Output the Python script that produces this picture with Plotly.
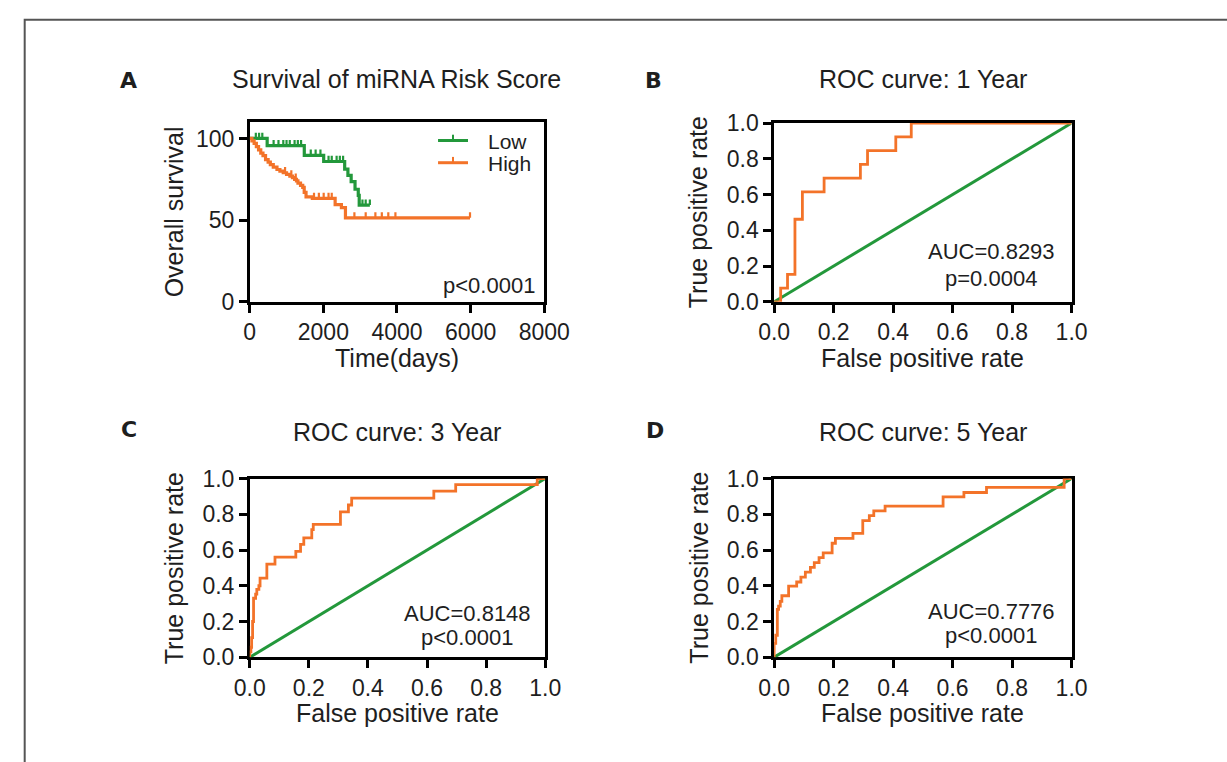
import plotly.graph_objects as go

W, H = 1227, 762

# ---------------- Panel A: Kaplan-Meier ----------------
low_t = [0, 474, 1482, 2009, 2579, 2667, 2755, 2860, 2948, 2974, 3263]
low_s = [100, 95.6, 89.7, 85.9, 81.2, 77.4, 73.6, 68.9, 65.1, 59.2, 59.2]
low_cens_t = [166, 254, 342, 649, 781, 912, 1000, 1088, 1219, 1307, 1395,
              1658, 1790, 1921, 2141, 2228, 2360, 2448, 2536, 3062, 3150, 3263]

high_t = [0, 60, 120, 180, 240, 300, 360, 430, 500, 560, 640, 740, 820, 910,
          1000, 1090, 1160, 1220, 1270, 1310, 1380, 1440, 1480, 1530, 1700,
          2320, 2490, 2600, 5983]
high_s = [100, 98.5, 97, 95, 93, 91, 89.5, 87, 85.5, 84, 82.5, 81, 80, 79,
          78, 77, 76, 75, 74, 72.7, 71.3, 70, 67, 64.2, 63.3,
          59.5, 57.6, 51.4, 51.4]
high_cens_t = [960, 1130, 1250, 1746, 1878, 2009, 2141, 2228, 2843, 3150,
               3413, 3588, 3764, 3957, 5983]

km_xticks = [0, 2000, 4000, 6000, 8000]
km_yticks = [0, 50, 100]

# ---------------- ROC curves (FPR at each jump, TPR after jump) ----------------
roc1_fpr = [0, 0.022, 0.045, 0.070, 0.095, 0.168, 0.290, 0.314, 0.409, 0.461, 1.0]
roc1_tpr = [0, 0.077, 0.154, 0.462, 0.615, 0.692, 0.769, 0.846, 0.923, 1.0, 1.0]

roc3_fpr = [0, 0, 0.004, 0.0065, 0.0097, 0.013, 0.020, 0.024, 0.031, 0.035,
            0.058, 0.0855, 0.156, 0.172, 0.183, 0.210, 0.215, 0.307, 0.334,
            0.345, 0.623, 0.697, 0.973, 1.0]
roc3_tpr = [0, 0.03, 0.056, 0.11, 0.20, 0.33, 0.353, 0.38, 0.40, 0.443,
            0.521, 0.56, 0.593, 0.632, 0.668, 0.714, 0.744, 0.813, 0.852,
            0.89, 0.93, 0.966, 1.0, 1.0]

roc5_fpr = [0, 0, 0.0054, 0.0108, 0.015, 0.0206, 0.026, 0.0487, 0.0758, 0.090,
            0.105, 0.122, 0.135, 0.151, 0.165, 0.195, 0.206, 0.265, 0.298,
            0.320, 0.335, 0.373, 0.568, 0.638, 0.714, 0.975, 1.0]
roc5_tpr = [0, 0.078, 0.123, 0.268, 0.286, 0.313, 0.344, 0.398, 0.421, 0.448,
            0.476, 0.503, 0.53, 0.557, 0.584, 0.638, 0.665, 0.693, 0.765,
            0.792, 0.819, 0.846, 0.897, 0.922, 0.951, 1.0, 1.0]

roc_ticks = [0.0, 0.2, 0.4, 0.6, 0.8, 1.0]

ORANGE = "#f37329"
GREEN = "#23983b"
TXT = "#1e1e1e"
FONT = "Liberation Sans, Arial, sans-serif"
LETTER_FONT = "DejaVu Sans, Liberation Sans, sans-serif"


def px(x):
    return x / W


def py(y):
    return 1 - y / H


def step_value(times, vals, t):
    v = vals[0]
    for ti, vi in zip(times, vals):
        if ti <= t:
            v = vi
    return v


def cens_segments(times, vals, cens, h):
    xs, ys = [], []
    for t in cens:
        v = step_value(times, vals, t)
        xs += [t, t, None]
        ys += [v, v + h, None]
    return xs, ys


fig = go.Figure()

# Panel A traces
for t, s, c, col in [(low_t, low_s, low_cens_t, GREEN), (high_t, high_s, high_cens_t, ORANGE)]:
    fig.add_trace(go.Scatter(x=t, y=s, mode="lines", line=dict(color=col, width=3.2, shape="hv"),
                             xaxis="x", yaxis="y", cliponaxis=False, showlegend=False))
    cx, cy = cens_segments(t, s, c, 3.5)
    fig.add_trace(go.Scatter(x=cx, y=cy, mode="lines", line=dict(color=col, width=2.2),
                             xaxis="x", yaxis="y", cliponaxis=False, showlegend=False))

# ROC traces
for i, (f, tp) in enumerate([(roc1_fpr, roc1_tpr), (roc3_fpr, roc3_tpr), (roc5_fpr, roc5_tpr)], start=2):
    fig.add_trace(go.Scatter(x=[0, 1], y=[0, 1], mode="lines", line=dict(color=GREEN, width=3),
                             xaxis=f"x{i}", yaxis=f"y{i}", cliponaxis=False, showlegend=False))
    fig.add_trace(go.Scatter(x=f, y=tp, mode="lines", line=dict(color=ORANGE, width=2.8, shape="hv"),
                             xaxis=f"x{i}", yaxis=f"y{i}", cliponaxis=False, showlegend=False))


def axis(domain, rng, ticks, ticktext=None, anchor=None):
    d = dict(domain=domain, range=rng, tickvals=ticks, showline=True, linecolor="black",
             linewidth=2.5, mirror=True, ticks="outside", ticklen=8, tickwidth=2.5,
             tickcolor="black", showgrid=False, zeroline=False, layer="below traces",
             tickfont=dict(family=FONT, size=23, color=TXT), fixedrange=True)
    if ticktext is not None:
        d["ticktext"] = ticktext
    if anchor:
        d["anchor"] = anchor
    return d


rt = ["%.1f" % v for v in roc_ticks]

panels = {
    # name: (x0, x1, ytop, ybottom)
    "A": (242, 547, 113, 299),
    "B": (785, 1093, 114, 299),
    "C": (242, 548, 482, 667),
    "D": (785, 1093, 482, 667),
}

layout_axes = {}
pa = panels["A"]
layout_axes["xaxis"] = axis([px(pa[0]), px(pa[1])], [0, 8000], km_xticks, anchor="y")
layout_axes["yaxis"] = axis([py(pa[3]), py(pa[2])], [0, 110], km_yticks, anchor="x")
for i, key in zip([2, 3, 4], ["B", "C", "D"]):
    p = panels[key]
    layout_axes[f"xaxis{i}"] = axis([px(p[0]), px(p[1])], [0, 1], roc_ticks, rt, anchor=f"y{i}")
    layout_axes[f"yaxis{i}"] = axis([py(p[3]), py(p[2])], [0, 1], roc_ticks, rt, anchor=f"x{i}")

annotations = []


def txt(x, y, s, size=23, bold=False, angle=0, xanchor="center", family=FONT):
    annotations.append(dict(x=px(x), y=py(y), xref="paper", yref="paper",
                            text=("<b>" + s + "</b>") if bold else s,
                            showarrow=False, textangle=angle, xanchor=xanchor, yanchor="middle",
                            font=dict(family=family, size=size, color=TXT)))


# Panel letters
txt(117, 70, "A", 22, bold=True, family=LETTER_FONT)
txt(660, 70, "B", 22, bold=True, family=LETTER_FONT)
txt(117, 431, "C", 22, bold=True, family=LETTER_FONT)
txt(662, 432, "D", 22, bold=True, family=LETTER_FONT)

# Titles
titles = ["Survival of miRNA Risk Score", "ROC curve: 1 Year", "ROC curve: 3 Year", "ROC curve: 5 Year"]
for key, ttl in zip(["A", "B", "C", "D"], titles):
    p = panels[key]
    ty = 68 if key in ("A", "B") else 434
    txt((p[0] + p[1]) / 2, ty, ttl, 25)

# Axis titles
xt = ["Time(days)", "False positive rate", "False positive rate", "False positive rate"]
yt = ["Overall survival", "True positive rate", "True positive rate", "True positive rate"]
for key, xs, ys in zip(["A", "B", "C", "D"], xt, yt):
    p = panels[key]
    txt((p[0] + p[1]) / 2, p[3] + 58, xs, 25)
    txt(p[0] - 78, (p[2] + p[3]) / 2, ys, 25, angle=-90)

# Stats text
txt(490, 282, "p&lt;0.0001", 22)
txt(1010, 247, "AUC=0.8293", 22)
txt(1010, 275, "p=0.0004", 22)
txt(467, 622, "AUC=0.8148", 22)
txt(467, 647, "p&lt;0.0001", 22)
txt(1010, 620, "AUC=0.7776", 22)
txt(1010, 645, "p&lt;0.0001", 22)

# Legend (panel A)
shapes = []
for yl, col, lab in [(132, GREEN, "Low"), (155, ORANGE, "High")]:
    shapes.append(dict(type="line", xref="paper", yref="paper", x0=px(437), x1=px(468),
                       y0=py(yl), y1=py(yl), line=dict(color=col, width=3)))
    shapes.append(dict(type="line", xref="paper", yref="paper", x0=px(452.5), x1=px(452.5),
                       y0=py(yl), y1=py(yl - 6), line=dict(color=col, width=2)))
    txt(487, yl + 1, lab, 21, xanchor="left")

# Outer frame
shapes.append(dict(type="rect", xref="paper", yref="paper", x0=px(9), x1=px(1260),
                   y0=py(800), y1=py(7), line=dict(color="#555555", width=2)))

fig.update_layout(width=W, height=H, autosize=False, margin=dict(l=0, r=0, t=0, b=0),
                  paper_bgcolor="white", plot_bgcolor="white", showlegend=False,
                  annotations=annotations, shapes=shapes, **layout_axes)

fig.write_html("out.html", post_script="document.body.style.margin='0';",
               config={"displayModeBar": False})
